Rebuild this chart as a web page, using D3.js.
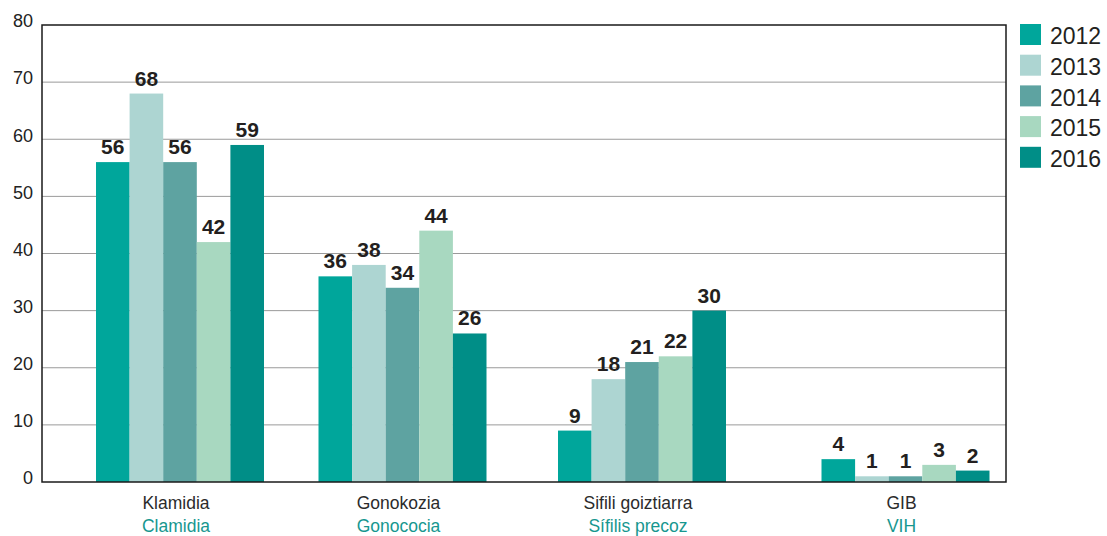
<!DOCTYPE html>
<html>
<head>
<meta charset="utf-8">
<script src="https://d3js.org/d3.v7.min.js"></script>
<style>
  body { margin: 0; background: #fff; }
  svg { font-family: "Liberation Sans", Arial, sans-serif; }
</style>
</head>
<body>
<div id="chart"></div>
<script>
// data
const categories = ["Klamidia", "Gonokozia", "Sifili goiztiarra", "GIB"];
const categoriesEs = ["Clamidia", "Gonococia", "Sífilis precoz", "VIH"];
const years = ["2012", "2013", "2014", "2015", "2016"];
const v2012 = [56, 36, 9, 4];
const v2013 = [68, 38, 18, 1];
const v2014 = [56, 34, 21, 1];
const v2015 = [42, 44, 22, 3];
const v2016 = [59, 26, 30, 2];
const yTicks = [0, 10, 20, 30, 40, 50, 60, 70, 80];

const series = [v2012, v2013, v2014, v2015, v2016];
const colors = ["#00a69b", "#add5d2", "#5ea3a1", "#a8d8c0", "#008e87"];

const width = 1107, height = 536;
const plot = {left: 42, right: 1006, top: 25, bottom: 482};

// group centres in the original are not evenly spaced
const groupCenters = [180, 402.5, 642, 905.5];
const groupWidth = 168;

const svg = d3.select("#chart").append("svg")
  .attr("width", width).attr("height", height);

const y = d3.scaleLinear().domain([0, 80]).range([plot.bottom, plot.top]);
const x0 = d3.scaleOrdinal().domain(categories).range(groupCenters);
const x1 = d3.scaleBand().domain(years).range([-groupWidth / 2, groupWidth / 2]).padding(0);

// gridlines
svg.append("g").selectAll("line")
  .data(yTicks.filter(d => d > 0 && d < 80))
  .enter().append("line")
  .attr("x1", plot.left).attr("x2", plot.right)
  .attr("y1", d => y(d)).attr("y2", d => y(d))
  .attr("stroke", "#9a9a9a").attr("stroke-width", 1);

// y tick labels
svg.append("g").selectAll("text")
  .data(yTicks)
  .enter().append("text")
  .attr("x", 33).attr("y", d => y(d) - 4)
  .attr("dy", "0.35em")
  .attr("text-anchor", "end")
  .attr("font-size", 18)
  .attr("fill", "#222")
  .text(d => d);

// bars
const rows = [];
categories.forEach((c, i) => {
  years.forEach((yr, j) => rows.push({cat: c, year: yr, value: series[j][i], color: colors[j]}));
});

svg.append("g").selectAll("rect")
  .data(rows)
  .enter().append("rect")
  .attr("x", d => x0(d.cat) + x1(d.year))
  .attr("width", x1.bandwidth())
  .attr("y", d => y(d.value))
  .attr("height", d => y(0) - y(d.value))
  .attr("fill", d => d.color);

// value labels
svg.append("g").selectAll("text")
  .data(rows)
  .enter().append("text")
  .attr("x", d => x0(d.cat) + x1(d.year) + x1.bandwidth() / 2)
  .attr("y", d => y(d.value) - 8)
  .attr("text-anchor", "middle")
  .attr("font-size", 21)
  .attr("font-weight", "bold")
  .attr("fill", "#231f20")
  .text(d => d.value);

// frame
svg.append("rect")
  .attr("x", plot.left).attr("y", plot.top)
  .attr("width", plot.right - plot.left).attr("height", plot.bottom - plot.top)
  .attr("fill", "none").attr("stroke", "#1a1a1a").attr("stroke-width", 1.5);

// category labels
const cl = svg.append("g").selectAll("g")
  .data(categories)
  .enter().append("g");
cl.append("text")
  .attr("x", d => x0(d) - 4).attr("y", 509)
  .attr("text-anchor", "middle").attr("font-size", 17.5).attr("fill", "#2b2b2b")
  .text(d => d);
cl.append("text")
  .attr("x", d => x0(d) - 4).attr("y", 532)
  .attr("text-anchor", "middle").attr("font-size", 17.5).attr("fill", "#17978f")
  .text((d, i) => categoriesEs[i]);

// legend
const lg = svg.append("g").attr("transform", "translate(1020,24)")
  .selectAll("g").data(years).enter().append("g")
  .attr("transform", (d, i) => `translate(0,${i * 30.7})`);
lg.append("rect").attr("width", 21).attr("height", 21)
  .attr("fill", (d, i) => colors[i]);
lg.append("text").attr("x", 30).attr("y", 12).attr("dy", "0.36em")
  .attr("font-size", 23).attr("fill", "#231f20")
  .text(d => d);
</script>
</body>
</html>
